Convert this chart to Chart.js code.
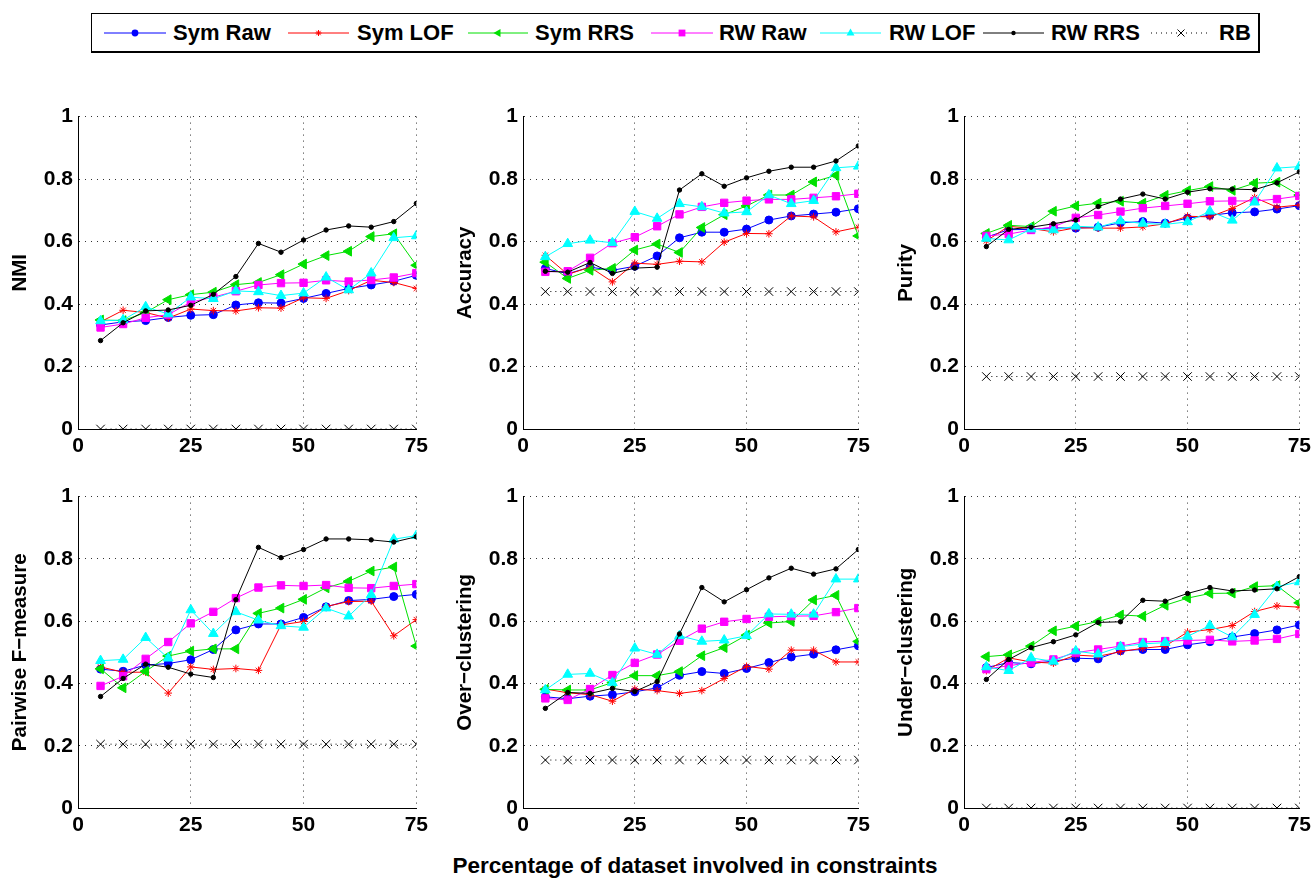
<!DOCTYPE html>
<html>
<head>
<meta charset="utf-8">
<script src="https://cdn.jsdelivr.net/npm/chart.js@4.4.1/dist/chart.umd.min.js"></script>
<style>
  body { margin: 0; background: #fff; font-family: "Liberation Sans", Arial, sans-serif; }
  #page { position: relative; width: 1315px; height: 879px; overflow: hidden; }
  .panel { position: absolute; }
  #legend { position: absolute; left: 91px; top: 13px; width: 1166px; height: 37px; border: 1px solid #000; border-bottom-width: 2px; border-right-width: 2px; background: #fff; }
  #legend span { position: absolute; top: 6px; font-weight: bold; font-size: 22px; line-height: 26px; color: #000; }
  #xtitle { position: absolute; left: 0; width: 1390px; top: 853px; text-align: center; font-weight: bold; font-size: 22.5px; color: #000; }
</style>
</head>
<body>
<div id="page">
  <div id="legend">
    <svg id="legendMarks" width="1166" height="37" style="position:absolute;left:0;top:0"></svg>
  </div>
  <div id="xtitle">Percentage of dataset involved in constraints</div>
</div>
<script>
// x positions: percentage of dataset involved in constraints
const xs = [5, 10, 15, 20, 25, 30, 35, 40, 45, 50, 55, 60, 65, 70, 75]
const seriesNames = ['Sym Raw', 'Sym LOF', 'Sym RRS', 'RW Raw', 'RW LOF', 'RW RRS', 'RB']
const panelTitles = ['NMI', 'Accuracy', 'Purity', 'Pairwise F\u2212measure', 'Over\u2212clustering', 'Under\u2212clustering']
const yTicks = [0, 0.2, 0.4, 0.6, 0.8, 1]
const xTicks = [0, 25, 50, 75]

// NMI
const nmiSymRaw = [0.333, 0.343, 0.347, 0.357, 0.364, 0.366, 0.397, 0.404, 0.403, 0.418, 0.434, 0.450, 0.461, 0.473, 0.492]
const nmiSymLOF = [0.343, 0.380, 0.373, 0.355, 0.384, 0.379, 0.378, 0.388, 0.387, 0.420, 0.418, 0.443, 0.476, 0.469, 0.450]
const nmiSymRRS = [0.349, 0.347, 0.373, 0.414, 0.430, 0.438, 0.462, 0.469, 0.494, 0.528, 0.555, 0.569, 0.616, 0.625, 0.524]
const nmiRWRaw = [0.325, 0.336, 0.356, 0.366, 0.406, 0.422, 0.441, 0.461, 0.467, 0.468, 0.476, 0.472, 0.477, 0.485, 0.499]
const nmiRWLOF = [0.346, 0.349, 0.391, 0.368, 0.422, 0.417, 0.442, 0.439, 0.427, 0.435, 0.486, 0.445, 0.499, 0.612, 0.618]
const nmiRWRRS = [0.283, 0.340, 0.378, 0.381, 0.396, 0.431, 0.488, 0.594, 0.566, 0.605, 0.637, 0.650, 0.646, 0.664, 0.722]
const nmiRB = 0.0

// Accuracy
const accSymRaw = [0.514, 0.497, 0.518, 0.508, 0.521, 0.554, 0.612, 0.630, 0.630, 0.640, 0.669, 0.682, 0.688, 0.694, 0.705]
const accSymLOF = [0.556, 0.495, 0.518, 0.471, 0.531, 0.527, 0.537, 0.535, 0.598, 0.626, 0.625, 0.682, 0.679, 0.631, 0.646]
const accSymRRS = [0.534, 0.482, 0.508, 0.514, 0.573, 0.592, 0.565, 0.645, 0.686, 0.714, 0.749, 0.749, 0.791, 0.812, 0.618]
const accRWRaw = [0.503, 0.505, 0.548, 0.595, 0.614, 0.649, 0.687, 0.711, 0.724, 0.731, 0.735, 0.735, 0.740, 0.745, 0.753]
const accRWLOF = [0.551, 0.593, 0.604, 0.596, 0.696, 0.674, 0.721, 0.711, 0.691, 0.695, 0.749, 0.721, 0.731, 0.836, 0.841]
const accRWRRS = [0.505, 0.502, 0.533, 0.498, 0.515, 0.518, 0.765, 0.817, 0.777, 0.804, 0.825, 0.838, 0.838, 0.858, 0.906]
const accRB = 0.440

// Purity
const purSymRaw = [0.614, 0.638, 0.639, 0.644, 0.643, 0.646, 0.660, 0.664, 0.659, 0.675, 0.684, 0.692, 0.695, 0.704, 0.715]
const purSymLOF = [0.602, 0.649, 0.642, 0.631, 0.644, 0.643, 0.643, 0.647, 0.657, 0.681, 0.679, 0.706, 0.741, 0.710, 0.717]
const purSymRRS = [0.626, 0.652, 0.648, 0.697, 0.714, 0.723, 0.729, 0.723, 0.748, 0.763, 0.776, 0.764, 0.787, 0.790, 0.749]
const purRWRaw = [0.618, 0.624, 0.637, 0.647, 0.676, 0.685, 0.696, 0.707, 0.714, 0.721, 0.729, 0.730, 0.730, 0.736, 0.746]
const purRWLOF = [0.610, 0.605, 0.640, 0.637, 0.649, 0.646, 0.666, 0.658, 0.655, 0.663, 0.697, 0.668, 0.726, 0.835, 0.840]
const purRWRRS = [0.584, 0.639, 0.646, 0.657, 0.669, 0.712, 0.736, 0.752, 0.736, 0.758, 0.769, 0.768, 0.766, 0.788, 0.823]
const purRB = 0.168

// Pairwise F-measure
const pfSymRaw = [0.446, 0.439, 0.459, 0.464, 0.476, 0.509, 0.572, 0.591, 0.591, 0.612, 0.646, 0.666, 0.670, 0.679, 0.686]
const pfSymLOF = [0.453, 0.436, 0.436, 0.369, 0.453, 0.445, 0.448, 0.442, 0.588, 0.599, 0.647, 0.663, 0.664, 0.553, 0.605]
const pfSymRRS = [0.447, 0.386, 0.439, 0.488, 0.504, 0.511, 0.511, 0.625, 0.642, 0.670, 0.707, 0.728, 0.761, 0.774, 0.520]
const pfRWRaw = [0.392, 0.423, 0.479, 0.533, 0.593, 0.630, 0.674, 0.708, 0.715, 0.713, 0.716, 0.707, 0.706, 0.713, 0.719]
const pfRWLOF = [0.473, 0.477, 0.547, 0.481, 0.636, 0.560, 0.630, 0.603, 0.585, 0.580, 0.642, 0.616, 0.685, 0.863, 0.875]
const pfRWRRS = [0.358, 0.416, 0.462, 0.452, 0.430, 0.419, 0.669, 0.837, 0.804, 0.830, 0.864, 0.864, 0.861, 0.854, 0.871]
const pfRB = 0.205

// Over-clustering
const ocSymRaw = [0.357, 0.351, 0.359, 0.364, 0.373, 0.386, 0.426, 0.438, 0.432, 0.448, 0.467, 0.485, 0.494, 0.508, 0.521]
const ocSymLOF = [0.382, 0.370, 0.364, 0.343, 0.382, 0.377, 0.368, 0.377, 0.416, 0.455, 0.446, 0.507, 0.507, 0.469, 0.469]
const ocSymRRS = [0.381, 0.379, 0.379, 0.403, 0.425, 0.425, 0.438, 0.489, 0.515, 0.555, 0.594, 0.599, 0.668, 0.683, 0.535]
const ocRWRaw = [0.352, 0.347, 0.382, 0.427, 0.466, 0.493, 0.537, 0.576, 0.598, 0.607, 0.614, 0.616, 0.617, 0.629, 0.642]
const ocRWLOF = [0.379, 0.429, 0.432, 0.402, 0.513, 0.493, 0.553, 0.535, 0.539, 0.553, 0.623, 0.622, 0.622, 0.735, 0.735]
const ocRWRRS = [0.320, 0.371, 0.368, 0.384, 0.374, 0.406, 0.559, 0.708, 0.662, 0.701, 0.739, 0.770, 0.751, 0.768, 0.830]
const ocRB = 0.154

// Under-clustering
const ucSymRaw = [0.451, 0.467, 0.463, 0.472, 0.481, 0.479, 0.505, 0.509, 0.509, 0.524, 0.534, 0.549, 0.560, 0.572, 0.588]
const ucSymLOF = [0.441, 0.482, 0.469, 0.465, 0.491, 0.487, 0.502, 0.513, 0.520, 0.565, 0.573, 0.586, 0.631, 0.649, 0.645]
const ucSymRRS = [0.486, 0.492, 0.520, 0.569, 0.584, 0.599, 0.620, 0.616, 0.651, 0.674, 0.689, 0.690, 0.711, 0.714, 0.659]
const ucRWRaw = [0.446, 0.457, 0.467, 0.477, 0.499, 0.509, 0.520, 0.533, 0.536, 0.538, 0.540, 0.535, 0.538, 0.543, 0.559]
const ucRWLOF = [0.453, 0.441, 0.482, 0.471, 0.504, 0.494, 0.518, 0.527, 0.531, 0.551, 0.586, 0.549, 0.621, 0.711, 0.726]
const ucRWRRS = [0.413, 0.477, 0.515, 0.534, 0.556, 0.596, 0.598, 0.667, 0.664, 0.689, 0.708, 0.697, 0.700, 0.704, 0.743]
const ucRB = 0.0

// styles for each series, same order as seriesNames
const styles = [
    { color: '#0000ff', pointStyle: 'circle', radius: 4, rotation: 0, fill: true },
    { color: '#ff0000', pointStyle: 'star', radius: 3.8, rotation: 0, fill: false },
    { color: '#00e000', pointStyle: 'triangle', radius: 5.6, rotation: -90, fill: true },
    { color: '#ff00ff', pointStyle: 'rect', radius: 5.2, rotation: 0, fill: true },
    { color: '#00ffff', pointStyle: 'triangle', radius: 5.6, rotation: 0, fill: true },
    { color: '#000000', pointStyle: 'circle', radius: 2.2, rotation: 0, fill: true },
    { color: '#000000', pointStyle: 'crossRot', radius: 6, rotation: 0, fill: false, dash: [1, 4] }
]

const panels = [
    { title: panelTitles[0], series: [nmiSymRaw, nmiSymLOF, nmiSymRRS, nmiRWRaw, nmiRWLOF, nmiRWRRS], rb: nmiRB, left: 78, top: 111, w: 339, h: 318 },
    { title: panelTitles[1], series: [accSymRaw, accSymLOF, accSymRRS, accRWRaw, accRWLOF, accRWRRS], rb: accRB, left: 523, top: 111, w: 336, h: 318 },
    { title: panelTitles[2], series: [purSymRaw, purSymLOF, purSymRRS, purRWRaw, purRWLOF, purRWRRS], rb: purRB, left: 964, top: 111, w: 336, h: 318 },
    { title: panelTitles[3], series: [pfSymRaw, pfSymLOF, pfSymRRS, pfRWRaw, pfRWLOF, pfRWRRS], rb: pfRB, left: 78, top: 491, w: 339, h: 317 },
    { title: panelTitles[4], series: [ocSymRaw, ocSymLOF, ocSymRRS, ocRWRaw, ocRWLOF, ocRWRRS], rb: ocRB, left: 523, top: 491, w: 336, h: 317 },
    { title: panelTitles[5], series: [ucSymRaw, ucSymLOF, ucSymRRS, ucRWRaw, ucRWLOF, ucRWRRS], rb: ucRB, left: 964, top: 491, w: 336, h: 317 }
]

const Y_AXIS_W = 70
const X_AXIS_H = 36
const PAD_TOP = 12
const PAD_RIGHT = 16

function makeDataset(i, values){
    const s = styles[i]
    return {
        label: seriesNames[i],
        data: xs.map((x, k) => ({ x, y: values[k] })),
        borderColor: s.color,
        borderWidth: 1,
        borderDash: s.dash || [],
        pointStyle: s.pointStyle,
        pointRadius: s.radius,
        pointRotation: s.rotation,
        pointBackgroundColor: s.fill ? s.color : 'rgba(0,0,0,0)',
        pointBorderColor: s.color,
        pointBorderWidth: 1,
        tension: 0,
        order: 10 - i
    }
}

function displayPanel(p){
    const div = document.createElement('div')
    div.className = 'panel'
    const cw = Y_AXIS_W + p.w + PAD_RIGHT
    const ch = PAD_TOP + p.h + X_AXIS_H
    div.style.left = (p.left - Y_AXIS_W) + 'px'
    div.style.top = (p.top - PAD_TOP) + 'px'
    div.style.width = cw + 'px'
    div.style.height = ch + 'px'
    const canvas = document.createElement('canvas')
    div.appendChild(canvas)
    document.getElementById('page').appendChild(div)

    const datasets = p.series.map((vals, i) => makeDataset(i, vals))
    datasets.push(makeDataset(6, xs.map(() => p.rb)))

    new Chart(canvas, {
        type: 'line',
        data: { datasets },
        options: {
            responsive: true,
            maintainAspectRatio: false,
            animation: false,
            layout: { padding: { top: PAD_TOP, right: PAD_RIGHT, left: 0, bottom: 0 } },
            plugins: { legend: { display: false }, tooltip: { enabled: false } },
            scales: {
                x: {
                    type: 'linear',
                    min: 0, max: 75,
                    afterBuildTicks: axis => { axis.ticks = xTicks.map(v => ({ value: v })) },
                    afterFit: axis => { axis.height = X_AXIS_H },
                    ticks: { color: '#000', font: { family: 'Liberation Sans', size: 21, weight: 'bold' }, padding: 5, maxRotation: 0 },
                    grid: { color: '#333', lineWidth: 1, drawTicks: false },
                    border: { display: true, color: '#000', width: 1, dash: [1, 5] }
                },
                y: {
                    min: 0, max: 1,
                    afterBuildTicks: axis => { axis.ticks = yTicks.map(v => ({ value: v })) },
                    afterFit: axis => { axis.width = Y_AXIS_W },
                    ticks: { color: '#000', font: { family: 'Liberation Sans', size: 21, weight: 'bold' }, padding: 5,
                             callback: v => String(Number(v.toFixed(1))) },
                    grid: { color: '#333', lineWidth: 1, drawTicks: false },
                    border: { display: true, color: '#000', width: 1, dash: [1, 5] },
                    title: { display: true, text: p.title, color: '#000', font: { family: 'Liberation Sans', size: 20.5, weight: 'bold' }, padding: { top: 0, bottom: 0 } }
                }
            }
        }
    })
}

panels.forEach(displayPanel)

// legend: line samples with markers, then bold labels
const legendItems = [
    { lineFrom: 12, lineTo: 74, textAt: 81 },
    { lineFrom: 196, lineTo: 257, textAt: 265 },
    { lineFrom: 376, lineTo: 436, textAt: 443 },
    { lineFrom: 559, lineTo: 621, textAt: 627 },
    { lineFrom: 728, lineTo: 789, textAt: 797 },
    { lineFrom: 891, lineTo: 952, textAt: 959 },
    { lineFrom: 1059, lineTo: 1119, textAt: 1127 }
]
const svg = document.getElementById('legendMarks')
const NS = 'http://www.w3.org/2000/svg'
function el(tag, attrs){
    const e = document.createElementNS(NS, tag)
    for(const k in attrs) e.setAttribute(k, attrs[k])
    svg.appendChild(e)
    return e
}
legendItems.forEach((item, i) => {
    const s = styles[i]
    const y = 19
    const cx = (item.lineFrom + item.lineTo) / 2
    el('line', { x1: item.lineFrom, y1: y, x2: item.lineTo, y2: y, stroke: s.color, 'stroke-width': 1, 'stroke-dasharray': s.dash ? '1 4' : 'none' })
    if(s.pointStyle === 'circle') el('circle', { cx, cy: y, r: Math.min(s.radius, 3.4), fill: s.color })
    if(s.pointStyle === 'rect') el('rect', { x: cx - 3.4, y: y - 3.4, width: 6.8, height: 6.8, fill: s.color })
    if(s.pointStyle === 'triangle'){
        const pts = s.rotation === -90
            ? `${cx - 4.5},${y} ${cx + 2.5},${y - 4} ${cx + 2.5},${y + 4}`
            : `${cx},${y - 4.5} ${cx - 4},${y + 2.5} ${cx + 4},${y + 2.5}`
        el('polygon', { points: pts, fill: s.color })
    }
    if(s.pointStyle === 'star'){
        el('path', { d: `M${cx - 3},${y} H${cx + 3} M${cx},${y - 3} V${y + 3} M${cx - 2.2},${y - 2.2} L${cx + 2.2},${y + 2.2} M${cx - 2.2},${y + 2.2} L${cx + 2.2},${y - 2.2}`, stroke: s.color, 'stroke-width': 1 })
    }
    if(s.pointStyle === 'crossRot'){
        el('path', { d: `M${cx - 3.5},${y - 3.5} L${cx + 3.5},${y + 3.5} M${cx - 3.5},${y + 3.5} L${cx + 3.5},${y - 3.5}`, stroke: s.color, 'stroke-width': 1 })
    }
    const span = document.createElement('span')
    span.textContent = seriesNames[i]
    span.style.left = item.textAt + 'px'
    document.getElementById('legend').appendChild(span)
})
</script>
</body>
</html>
